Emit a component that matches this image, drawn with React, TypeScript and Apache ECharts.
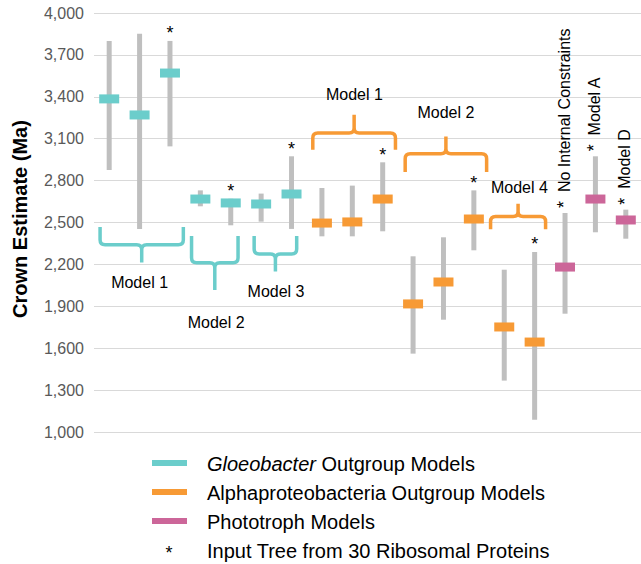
import React, { useEffect, useRef } from "react";
import * as echarts from "echarts";

// ---- Data ----
const categories = [
  "Gloeobacter M1-a", "Gloeobacter M1-b", "Gloeobacter M1-c",
  "Gloeobacter M2-a", "Gloeobacter M2-b",
  "Gloeobacter M3-a", "Gloeobacter M3-b",
  "Alpha M1-a", "Alpha M1-b", "Alpha M1-c",
  "Alpha M2-a", "Alpha M2-b", "Alpha M2-c",
  "Alpha M4-a", "Alpha M4-b",
  "No Internal Constraints", "Model A", "Model D",
];
const medians = [3385, 3270, 3570, 2668, 2640, 2633, 2704, 2496, 2504, 2668, 1917, 2074, 2525, 1752, 1644, 2181, 2668, 2518];
const lows = [2876, 2454, 3045, 2616, 2480, 2506, 2454, 2401, 2401, 2437, 1561, 1804, 2301, 1368, 1088, 1847, 2430, 2384];
const highs = [3800, 3852, 3800, 2730, 2670, 2707, 2974, 2747, 2764, 2931, 2258, 2394, 2730, 2162, 2289, 2568, 2974, 2592];
const groups = [
  "gloeo", "gloeo", "gloeo", "gloeo", "gloeo", "gloeo", "gloeo",
  "alpha", "alpha", "alpha", "alpha", "alpha", "alpha", "alpha", "alpha",
  "photo", "photo", "photo",
];
const ribosomal = [false, false, true, false, true, false, true, false, false, true, false, false, true, false, true, true, true, true];
const sideLabels = ["", "", "", "", "", "", "", "", "", "", "", "", "", "", "", "No Internal Constraints", "Model A", "Model D"];

const yTicks = { min: 1000, max: 4000, interval: 300 };

const seriesNames: Record<string, string> = {
  gloeo: "Gloeobacter Outgroup Models",
  alpha: "Alphaproteobacteria Outgroup Models",
  photo: "Phototroph Models",
};
const groupOrder = ["gloeo", "alpha", "photo"];

// Brace annotations (model groupings)
const braceLabels = ["Model 1", "Model 2", "Model 3", "Model 1", "Model 2", "Model 4"];
const braceGroup = ["gloeo", "gloeo", "gloeo", "alpha", "alpha", "alpha"];
const braceSpan = [[-0.3, 2.44], [2.71, 4.24], [4.77, 6.17], [6.7, 9.42], [9.74, 12.42], [12.55, 14.36]];
const braceLevels = [[2467, 2340, 2213], [2404, 2211, 2017], [2404, 2275, 2149], [3021, 3140, 3271], [2861, 2992, 3116], [2452, 2543, 2634]];
const braceLabelPos = [[1.0, 2068], [3.52, 1781], [5.49, 2003], [8.07, 3415], [11.08, 3286], [13.5, 2748]];

const legendLabels = ["Gloeobacter Outgroup Models", "Alphaproteobacteria Outgroup Models", "Phototroph Models", "Input Tree from 30 Ribosomal Proteins"];

// ---- Styles ----
const colors: Record<string, string> = { gloeo: "#6BCDCB", alpha: "#F79A35", photo: "#CC6699" };
const GRAY = "#BFBFBF";
const FONT = "'Liberation Sans', Arial, sans-serif";

export default function App() {
  const ref = useRef<HTMLDivElement>(null);
  useEffect(() => {
    if (!ref.current) return;
    const chart = echarts.init(ref.current, undefined, { renderer: "svg" });

    const pointSeries = groupOrder.map((g) => ({
      type: "custom",
      name: seriesNames[g],
      clip: false,
      data: categories
        .map((_, i) => i)
        .filter((i) => groups[i] === g)
        .map((i) => [i, lows[i], medians[i], highs[i], ribosomal[i] ? 1 : 0]),
      renderItem: (_params: any, api: any) => {
        const x = api.value(0);
        const lo = api.coord([x, api.value(1)]);
        const md = api.coord([x, api.value(2)]);
        const hi = api.coord([x, api.value(3)]);
        const star = api.value(4);
        const children: any[] = [
          { type: "rect", shape: { x: hi[0] - 2.5, y: hi[1], width: 5, height: lo[1] - hi[1] }, style: { fill: GRAY } },
          { type: "rect", shape: { x: md[0] - 10, y: md[1] - 4.5, width: 20, height: 9 }, style: { fill: colors[g] } },
        ];
        const label = sideLabels[x];
        if (star) {
          if (label) {
            children.push({
              type: "text",
              x: hi[0] - 1,
              y: hi[1] - 5,
              rotation: Math.PI / 2,
              style: {
                text: "{s|*}  " + label,
                font: `16px ${FONT}`,
                fill: "#000",
                align: "left",
                verticalAlign: "middle",
                rich: { s: { fontSize: 18, fontFamily: FONT, fill: "#000" } },
              },
            });
          } else {
            children.push({
              type: "text",
              x: hi[0],
              y: hi[1] - 7.5,
              style: { text: "*", font: `18px ${FONT}`, fill: "#000", align: "center", verticalAlign: "middle" },
            });
          }
        }
        return { type: "group", children };
      },
    }));

    const braceSeries = {
      type: "custom",
      name: "braces",
      clip: false,
      silent: true,
      data: braceLabels.map((_l, i) => [braceSpan[i][0], braceSpan[i][1], braceLevels[i][0], braceLevels[i][1], braceLevels[i][2], braceLabelPos[i][0], braceLabelPos[i][1], i]),
      renderItem: (_params: any, api: any) => {
        const i = api.value(7);
        const a = api.coord([api.value(0), api.value(2)]);
        const b = api.coord([api.value(1), api.value(3)]);
        const c = api.coord([api.value(0), api.value(4)]);
        const x1 = a[0], x2 = b[0], ye = a[1], ym = b[1], ya = c[1];
        const xm = (x1 + x2) / 2;
        const r = 5;
        const dir = ym > ye ? 1 : -1;
        const d =
          `M${x1} ${ye} L${x1} ${ym - dir * r} Q${x1} ${ym} ${x1 + r} ${ym} L${xm - r} ${ym} Q${xm} ${ym} ${xm} ${ym + dir * r} L${xm} ${ya} ` +
          `M${x2} ${ye} L${x2} ${ym - dir * r} Q${x2} ${ym} ${x2 - r} ${ym} L${xm + r} ${ym} Q${xm} ${ym} ${xm} ${ym + dir * r}`;
        const lp = api.coord([api.value(5), api.value(6)]);
        const col = colors[braceGroup[i]];
        return {
          type: "group",
          children: [
            { type: "path", shape: { pathData: d }, style: { stroke: col, lineWidth: 3.5, fill: "none" } },
            { type: "text", x: lp[0], y: lp[1], style: { text: braceLabels[i], font: `16px ${FONT}`, fill: "#000", align: "center", verticalAlign: "middle" } },
          ],
        };
      },
    };

    const legendY = [463, 492, 521, 550];
    const legendGraphics: any[] = [];
    groupOrder.forEach((g, k) => {
      legendGraphics.push({ type: "line", shape: { x1: 152, y1: legendY[k], x2: 187, y2: legendY[k] }, style: { stroke: colors[g], lineWidth: 6 } });
    });
    legendGraphics.push({ type: "text", x: 169, y: legendY[3] + 3, style: { text: "*", font: `18px ${FONT}`, fill: "#000", align: "center", verticalAlign: "middle" } });
    legendLabels.forEach((t, k) => {
      legendGraphics.push({
        type: "text",
        x: 207,
        y: legendY[k] + 1,
        style: k === 0
          ? {
              text: "{i|Gloeobacter} Outgroup Models",
              font: `20px ${FONT}`,
              fill: "#000",
              verticalAlign: "middle",
              rich: { i: { fontStyle: "italic", fontSize: 20, fontFamily: FONT, fill: "#000" } },
            }
          : { text: t, font: `20px ${FONT}`, fill: "#000", verticalAlign: "middle" },
      });
    });

    chart.setOption({
      animation: false,
      backgroundColor: "#fff",
      grid: { left: 94, top: 13, width: 550, height: 419 },
      xAxis: { type: "value", min: -0.5, max: 17.5, show: false },
      yAxis: {
        type: "value",
        min: yTicks.min,
        max: yTicks.max,
        interval: yTicks.interval,
        axisLine: { show: false },
        axisTick: { show: false },
        axisLabel: {
          color: "#595959",
          fontSize: 16,
          fontFamily: FONT,
          margin: 10,
          formatter: (v: number) => v.toLocaleString("en-US"),
        },
        splitLine: { lineStyle: { color: "#D9D9D9", width: 1 } },
      },
      graphic: [
        {
          type: "text",
          x: 20,
          y: 219,
          rotation: Math.PI / 2,
          style: { text: "Crown Estimate (Ma)", font: `bold 20px ${FONT}`, fill: "#000", align: "center", verticalAlign: "middle" },
        },
        ...legendGraphics,
      ],
      series: [braceSeries, ...pointSeries],
    });
    return () => chart.dispose();
  }, []);
  return <div ref={ref} style={{ position: "fixed", left: 0, top: 0, width: 641, height: 564 }} />;
}
